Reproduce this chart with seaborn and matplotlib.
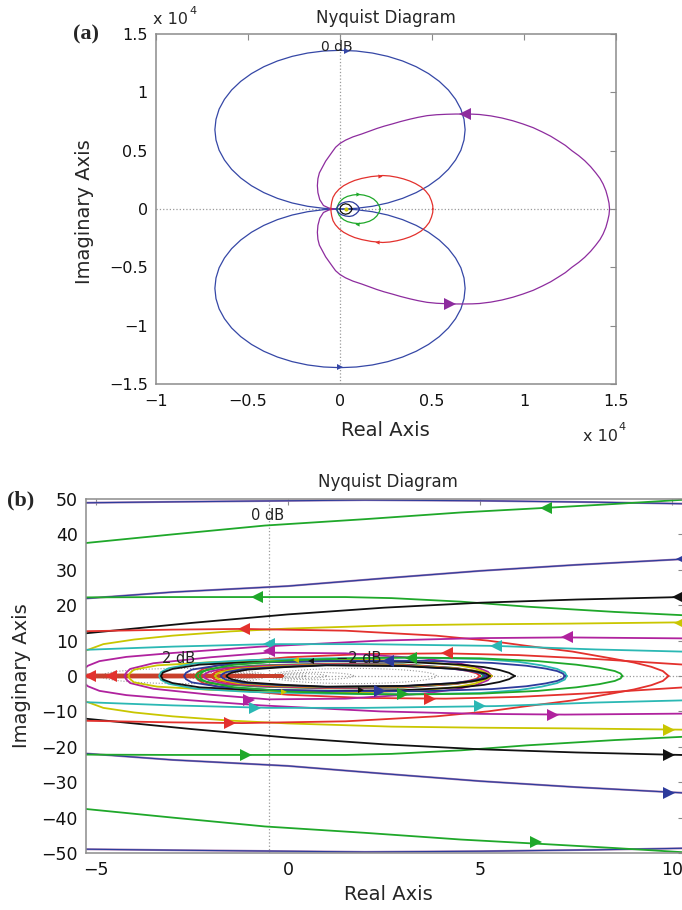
import numpy as np
import matplotlib
matplotlib.use("Agg")
import matplotlib.pyplot as plt
import seaborn as sns

# ---------------- Panel (a) data (units of 1e4), upper halves; lower halves mirror ----------------
a_blue_x = [0, -0.0888, -0.176, -0.26, -0.34, -0.414, -0.481, -0.5395, -0.589, -0.628, -0.657, -0.674, -0.68,
            -0.674, -0.657, -0.628, -0.589, -0.5395, -0.481, -0.414, -0.34, -0.26, -0.176, -0.0888, 0,
            0.0888, 0.176, 0.26, 0.34, 0.414, 0.481, 0.5395, 0.589, 0.628, 0.657, 0.674, 0.68,
            0.674, 0.657, 0.628, 0.589, 0.5395, 0.481, 0.414, 0.34, 0.26, 0.176, 0.0888, 0]
a_blue_y = [0, 0.0058, 0.0232, 0.0517, 0.0911, 0.1405, 0.1992, 0.266, 0.34, 0.4198, 0.504, 0.5913, 0.68,
            0.7687, 0.856, 0.9402, 1.02, 1.094, 1.1608, 1.2195, 1.2689, 1.3083, 1.3368, 1.3542, 1.36,
            1.3542, 1.3368, 1.3083, 1.2689, 1.2195, 1.1608, 1.094, 1.02, 0.9402, 0.856, 0.7687, 0.68,
            0.5913, 0.504, 0.4198, 0.34, 0.266, 0.1992, 0.1405, 0.0911, 0.0517, 0.0232, 0.0058, 0]
a_purple_x = [-0.03, -0.06, -0.09, -0.11, -0.12, -0.123, -0.12, -0.112, -0.095, -0.078, -0.06, -0.042, -0.024,
              0.0, 0.03, 0.07, 0.118, 0.16, 0.2, 0.24, 0.284, 0.33, 0.38, 0.425, 0.473, 0.525, 0.58, 0.63,
              0.675, 0.72, 0.758, 0.82, 0.88, 0.94, 0.994, 1.05, 1.1, 1.145, 1.184, 1.225, 1.26, 1.297,
              1.33, 1.362, 1.39, 1.413, 1.43, 1.445, 1.455, 1.462, 1.465]
a_purple_y = [0, 0.008, 0.03, 0.08, 0.14, 0.2, 0.26, 0.31, 0.36, 0.41, 0.45, 0.49, 0.529,
              0.562, 0.59, 0.618, 0.643, 0.667, 0.69, 0.71, 0.729, 0.75, 0.77, 0.786, 0.8, 0.808, 0.812, 0.814,
              0.814, 0.813, 0.81, 0.798, 0.78, 0.756, 0.729, 0.697, 0.66, 0.624, 0.586, 0.545, 0.5, 0.458,
              0.414, 0.363, 0.31, 0.262, 0.214, 0.157, 0.1, 0.05, 0]
a_red_x = [-0.05, -0.048, -0.045, -0.038, -0.025, -0.005, 0.02, 0.05, 0.08, 0.118, 0.17, 0.232, 0.27, 0.31,
           0.345, 0.379, 0.41, 0.44, 0.465, 0.485, 0.497, 0.504, 0.505]
a_red_y = [0, 0.03, 0.06, 0.1, 0.135, 0.17, 0.2, 0.225, 0.245, 0.262, 0.278, 0.287, 0.283, 0.272,
           0.258, 0.24, 0.218, 0.19, 0.155, 0.115, 0.07, 0.03, 0]
a_green_x = [-0.015, -0.013, -0.006, 0.005, 0.02, 0.04, 0.07, 0.1, 0.13, 0.16, 0.183, 0.2, 0.21, 0.216, 0.218]
a_green_y = [0, 0.025, 0.05, 0.072, 0.092, 0.108, 0.12, 0.125, 0.119, 0.105, 0.085, 0.06, 0.035, 0.015, 0]
a_navy_x = [-0.02, -0.015, -0.005, 0.01, 0.03, 0.05, 0.07, 0.088, 0.1, 0.105]
a_navy_y = [0, 0.018, 0.035, 0.05, 0.06, 0.064, 0.058, 0.04, 0.02, 0]
a_black_x = [0.0, 0.003, 0.015, 0.03, 0.048, 0.06, 0.065]
a_black_y = [0, 0.02, 0.038, 0.045, 0.038, 0.02, 0]
a_arrows = [(0.68, 0.814, '<', 'purple', 'big'), (0.6, -0.815, '>', 'purple', 'big'),
            (0.04, 1.357, '>', 'blue', 'small'), (0.0, -1.357, '>', 'blue', 'small'),
            (0.22, 0.287, '>', 'red', 'tiny'), (0.2, -0.285, '<', 'red', 'tiny'),
            (0.1, 0.125, '>', 'green', 'tiny'), (0.09, -0.125, '<', 'green', 'tiny'),
            (0.035, 0.0, 'o', 'yellow', 'tiny')]
a_xticks = [-1, -0.5, 0, 0.5, 1, 1.5]
a_xlabels = ['\u22121', '\u22120.5', '0', '0.5', '1', '1.5']
a_yticks = [-1.5, -1, -0.5, 0, 0.5, 1, 1.5]
a_ylabels = ['\u22121.5', '\u22121', '\u22120.5', '0', '0.5', '1', '1.5']

# ---------------- Panel (b) data, upper halves; lower halves mirror ----------------
b_curves = {
    "b_navy_top":  ([-5.5, -3, 0, 2, 5, 8, 10.6], [48.9, 49.2, 49.5, 49.7, 49.5, 49.1, 48.6]),
    "b_green_top": ([-5.5, -3, -0.6, 2, 4.5, 6.7, 8.5, 10.6], [37.3, 40.0, 42.5, 44.3, 46.2, 47.5, 48.6, 50.0]),
    "b_navy_mid":  ([-5.5, -3, 0, 2.5, 5, 7.5, 10.6], [21.7, 23.7, 25.4, 27.6, 29.7, 31.4, 33.2]),
    "b_green_flat": ([-5.5, -3, -0.8, 1.5, 2.7, 4.5, 6.2, 8.5, 10.6], [22.2, 22.3, 22.3, 22.3, 22.0, 21.0, 19.6, 18.1, 17.0]),
    "b_black_out": ([-5.5, -2.5, 0, 2.5, 5, 7.5, 10.6], [11.8, 15.0, 17.4, 19.3, 20.7, 21.6, 22.4]),
    "b_yellow_out": ([-5.7, -5.6, -5.3, -4.8, -4.0, -3.0, -1.5, 0, 2.7, 5, 7.3, 10.6],
                     [0, 4.0, 7.0, 9.0, 10.3, 11.4, 12.6, 13.4, 14.3, 14.6, 14.8, 15.2]),
    "b_red_out":   ([-5.5, -3, -1.2, 1.5, 3.85, 5.2, 6.15, 7.4, 8.45, 9.0, 9.45, 9.75, 9.9],
                    [12.6, 13.1, 13.3, 12.8, 11.4, 10.0, 8.6, 6.9, 4.9, 3.8, 2.6, 1.4, 0]),
    "b_magenta_out": ([-5.4, -5.35, -5.2, -4.9, -4.2, -3.0, -0.7, 2.4, 5.0, 7.2, 10.6],
                      [0, 1.5, 2.9, 4.2, 5.4, 6.5, 8.3, 10.0, 10.7, 10.9, 10.6]),
    "b_cyan_out":  ([-5.5, -3, -0.5, 2, 5.4, 8, 10.6], [7.3, 8.3, 9.0, 9.0, 8.5, 7.5, 6.8]),
    "b_red_mid":   ([-2.4, -2.35, -2.2, -1.5, 0, 2, 4.1, 6, 8, 10.6], [0, 1.0, 2.0, 3.8, 5.3, 6.2, 6.4, 5.9, 4.8, 3.0]),
    "b_red_axis":  ([-5.6, -3, -1, -0.15], [0.25, 0.25, 0.2, 0.0]),
    "b_magenta_in": ([-4.25, -4.2, -4.1, -3.5, -2, -0.5, 1.5, 3.5, 4.4, 4.9, 5.2, 5.3],
                     [0, 1.0, 2.0, 3.6, 5.3, 6.6, 6.4, 5.0, 3.7, 2.5, 1.2, 0]),
    "b_yellow_in": ([-4.15, -4.1, -4.0, -3.4, -2, 0, 2, 3.5, 4.4, 4.85, 5.1, 5.2],
                    [0, 0.9, 1.8, 3.0, 3.9, 4.5, 4.7, 4.0, 3.1, 2.2, 1.2, 0]),
    "b_cyan_in":   ([-3.35, -3.3, -3.1, -2.4, -1, 1, 3, 5, 6.0, 6.6, 7.0, 7.2, 7.25],
                    [0, 1.1, 2.2, 3.6, 4.5, 5.0, 5.2, 4.8, 4.0, 3.0, 2.0, 1.0, 0]),
    "b_black_in":  ([-3.3, -3.25, -3.0, -2.3, -1, 1, 3, 4.5, 5.1, 5.5, 5.75, 5.9],
                    [0, 1.0, 2.0, 3.2, 3.9, 4.2, 4.0, 3.2, 2.5, 1.7, 0.9, 0]),
    "b_navy_in":   ([-2.7, -2.65, -2.5, -1.8, -0.5, 1.5, 3.5, 5.3, 6.2, 6.7, 7.0, 7.15, 7.2],
                    [0, 0.9, 1.8, 3.0, 3.9, 4.3, 4.3, 3.7, 2.9, 2.1, 1.4, 0.7, 0]),
    "b_green_in":  ([-2.3, -2.25, -2.1, -1.4, 0, 2, 3.2, 5, 6.5, 7.5, 8.1, 8.5, 8.65, 8.7],
                    [0, 0.9, 1.8, 3.2, 4.4, 5.1, 5.2, 5.0, 4.2, 3.2, 2.3, 1.4, 0.7, 0]),
    "b_green_s":   ([-2.4, -2.35, -2.25, -1.8, -0.8, 1, 3, 4.3, 4.75, 5.0, 5.1],
                    [0, 0.7, 1.3, 2.3, 3.0, 3.5, 3.3, 2.3, 1.6, 0.8, 0]),
    "b_magenta_s": ([-2.2, -2.15, -2.05, -1.6, -0.6, 1, 3, 4.4, 4.85, 5.1, 5.2],
                    [0, 0.6, 1.2, 2.2, 2.9, 3.4, 3.2, 2.2, 1.5, 0.8, 0]),
    "b_red_s":     ([-2.0, -1.95, -1.85, -1.4, -0.4, 1, 3, 4.2, 4.65, 4.9, 5.0],
                    [0, 0.6, 1.2, 2.1, 2.8, 3.3, 3.1, 2.2, 1.5, 0.8, 0]),
    "b_yellow_s":  ([-1.9, -1.85, -1.75, -1.3, -0.3, 1, 3, 4.4, 4.9, 5.2, 5.3],
                    [0, 0.55, 1.1, 2.0, 2.7, 3.2, 3.0, 2.1, 1.4, 0.7, 0]),
    "b_navy_s":    ([-1.75, -1.7, -1.6, -1.2, -0.2, 1, 3, 4.3, 4.75, 5.05, 5.15],
                    [0, 0.55, 1.1, 1.9, 2.6, 3.1, 2.9, 2.0, 1.4, 0.7, 0]),
    "b_black_s":   ([-1.6, -1.55, -1.45, -1.05, -0.1, 1, 3, 4.4, 4.85, 5.15, 5.25],
                    [0, 0.5, 1.0, 1.8, 2.5, 3.0, 2.8, 2.0, 1.4, 0.7, 0]),
}
b_arrows = [(6.7, 47.5, '<', 'green'), (6.45, -47.0, '>', 'green'),
            (10.25, 33.1, '<', 'navy'), (9.9, -33.0, '>', 'navy'),
            (-0.8, 22.3, '<', 'green'), (-1.1, -22.2, '>', 'green'),
            (10.15, 22.3, '<', 'black'), (9.9, -22.2, '>', 'black'),
            (10.2, 15.1, '<', 'yellow'), (9.9, -15.2, '>', 'yellow'),
            (-1.15, 13.3, '<', 'red'), (-1.5, -13.3, '>', 'red'),
            (7.25, 10.9, '<', 'magenta'), (6.9, -10.9, '>', 'magenta'),
            (5.4, 8.5, '<', 'cyan'), (5.0, -8.4, '>', 'cyan'),
            (-0.5, 9.1, '<', 'cyan'), (-0.85, -8.9, '>', 'cyan'),
            (-0.5, 7.0, '<', 'magenta'), (-1.0, -6.7, '>', 'magenta'),
            (4.15, 6.4, '<', 'red'), (3.7, -6.4, '>', 'red'),
            (3.2, 5.2, '<', 'green'), (3.0, -5.2, '>', 'green'),
            (2.6, 4.3, '<', 'navy'), (2.4, -4.3, '>', 'navy'),
            (-5.15, 0.0, '<', 'red'), (-4.6, 0.0, '<', 'red')]
b_small_arrows = [(0.6, 4.2, '<', 'black'), (1.9, -3.9, '>', 'black'),
                  (0.2, 4.6, '<', 'yellow'), (-0.1, -4.5, '>', 'yellow')]
b_xticks = [-5, 0, 5, 10]
b_xlabels = ['\u22125', '0', '5', '10']
b_yticks = [-50, -40, -30, -20, -10, 0, 10, 20, 30, 40, 50]
b_ylabels = ['\u221250', '\u221240', '\u221230', '\u221220', '\u221210', '0', '10', '20', '30', '40', '50']
grid_db = [-10, -6, -4, -2, 2, 4, 6, 10]

# ---------------- styling ----------------
sns.set_style("white")
plt.rcParams['font.family'] = ['DejaVu Sans']
plt.rcParams['axes.unicode_minus'] = True

COL = {'blue': '#3547a6', 'purple': '#8d2c9e', 'red': '#e3312d', 'green': '#1fa82a',
       'navy': '#2d3b9c', 'black': '#111111', 'yellow': '#c9c600', 'magenta': '#b0229e',
       'cyan': '#2bb8b4'}
b_colors = {"b_navy_top": 'navy', "b_green_top": 'green', "b_navy_mid": 'navy', "b_green_flat": 'green',
            "b_black_out": 'black', "b_yellow_out": 'yellow', "b_red_out": 'red', "b_magenta_out": 'magenta',
            "b_cyan_out": 'cyan', "b_red_mid": 'red', "b_red_axis": 'red', "b_magenta_in": 'magenta',
            "b_yellow_in": 'yellow', "b_cyan_in": 'cyan', "b_black_in": 'black', "b_navy_in": 'navy',
            "b_green_in": 'green', "b_green_s": 'green', "b_magenta_s": 'magenta', "b_red_s": 'red',
            "b_yellow_s": 'yellow', "b_navy_s": 'navy', "b_black_s": 'black'}


def mirror_path(xs, ys):
    xs = list(xs)
    ys = list(ys)
    lx = xs[::-1]
    ly = [-v for v in ys[::-1]]
    if ys[0] == 0:
        lx, ly = lx[:-1], ly[:-1]
    return np.array(lx + xs), np.array(ly + ys)


def draw(ax, xs, ys, color, lw):
    sns.lineplot(x=xs, y=ys, sort=False, estimator=None, ax=ax, color=color, lw=lw, legend=False)


W, H = 682, 910
fig = plt.figure(figsize=(W / 100, H / 100), dpi=100)


def fx(px):
    return px / W


def fy(py):
    return 1 - py / H


ax_a = fig.add_axes([fx(156), fy(384), (616 - 156) / W, (384 - 34) / H])
ax_b = fig.add_axes([fx(86), fy(853), (684 - 86) / W, (853 - 499) / H])

# ---- panel (a) ----
ax_a.axhline(0, color='#9a9a9a', ls=':', lw=0.9, zorder=0)
ax_a.axvline(-0.5e-4, color='#9a9a9a', ls=':', lw=0.9, zorder=0)
lw_a = 0.9
draw(ax_a, a_blue_x, a_blue_y, COL['blue'], lw_a)
draw(ax_a, a_blue_x, [-v for v in a_blue_y], COL['blue'], lw_a)
for xs, ys, c in [(a_purple_x, a_purple_y, 'purple'), (a_red_x, a_red_y, 'red'),
                  (a_green_x, a_green_y, 'green'), (a_navy_x, a_navy_y, 'navy'),
                  (a_black_x, a_black_y, 'black')]:
    mx, my = mirror_path(xs, ys)
    draw(ax_a, mx, my, COL[c], lw_a)
sizes = {'big': 8, 'small': 4.5, 'tiny': 3}
for x, y, m, c, s in a_arrows:
    ax_a.plot([x], [y], marker=m, color=COL[c], ms=sizes[s], ls='none', mew=0, zorder=5)
ax_a.set_xlim(-1, 1.5)
ax_a.set_ylim(-1.5, 1.5)
ax_a.set_xticks(a_xticks)
ax_a.set_xticklabels(a_xlabels)
ax_a.set_yticks(a_yticks)
ax_a.set_yticklabels(a_ylabels)
ax_a.set_xlabel('')
ax_a.set_ylabel('')
ax_a.text(-0.015, 1.39, '0 dB', ha='center', va='center', fontsize=10, color='#222222')

# ---- panel (b) ----
ax_b.axhline(0, color='#9a9a9a', ls=':', lw=0.9, zorder=0)
ax_b.axvline(-0.5, color='#9a9a9a', ls=':', lw=0.9, zorder=0)
t = np.linspace(0, 2 * np.pi, 400)
for db in grid_db:
    M = 10 ** (db / 20)
    c0 = -M ** 2 / (M ** 2 - 1)
    r0 = abs(M / (M ** 2 - 1))
    ax_b.plot(c0 + r0 * np.cos(t), r0 * np.sin(t), ls=':', color='#9a9a9a', lw=0.8, zorder=0)

lw_b = 1.3
for name, (xs, ys) in b_curves.items():
    mx, my = mirror_path(xs, ys)
    if name in ("b_navy_top", "b_navy_mid"):
        draw(ax_b, mx, my, '#a27bb0', 1.5)
        draw(ax_b, mx, my, COL['navy'], 0.8)
    elif name == "b_red_axis":
        draw(ax_b, mx, my, '#c8402c', 2.2)
    else:
        draw(ax_b, mx, my, COL[b_colors[name]], lw_b)
for x, y, m, c in b_arrows:
    ax_b.plot([x], [y], marker=m, color=COL[c], ms=9, ls='none', mew=0, zorder=5)
for x, y, m, c in b_small_arrows:
    ax_b.plot([x], [y], marker=m, color=COL[c], ms=4, ls='none', mew=0, zorder=5)
ax_b.set_xlim(-5.25, 10.3)
ax_b.set_ylim(-50, 50)
ax_b.set_xticks(b_xticks)
ax_b.set_xticklabels(b_xlabels)
ax_b.set_yticks(b_yticks)
ax_b.set_yticklabels(b_ylabels)
ax_b.set_xlabel('')
ax_b.set_ylabel('')
ax_b.text(-0.53, 45.2, '0 dB', ha='center', va='center', fontsize=10.5, color='#222222')
ax_b.text(-2.85, 4.9, '2 dB', ha='center', va='center', fontsize=10.5, color='#222222')
ax_b.text(1.85, 4.9, '\u22122 dB', ha='center', va='center', fontsize=10.5, color='#222222')

for ax, ls in ((ax_a, 11.5), (ax_b, 12.5)):
    ax.tick_params(direction='in', length=4, width=0.8, color='#8a8a8a', top=True, right=True,
                   labelsize=ls, labelcolor='#111111')
    for s in ax.spines.values():
        s.set_color('#8c8c8c')
        s.set_linewidth(1.1)
ax_a.tick_params(axis='y', pad=6)
ax_a.tick_params(axis='x', pad=7)
ax_b.tick_params(axis='y', pad=6)
ax_b.tick_params(axis='x', pad=6)

# ---- figure texts ----
fig.text(fx(386), fy(18), 'Nyquist Diagram', ha='center', va='center', fontsize=12)
fig.text(fx(385), fy(430), 'Real Axis', ha='center', va='center', fontsize=14)
fig.text(fx(84), fy(212), 'Imaginary Axis', ha='center', va='center', rotation=90, fontsize=14)
fig.text(fx(153), fy(19), 'x 10', ha='left', va='center', fontsize=11.5)
fig.text(fx(189), fy(11), '4', ha='left', va='center', fontsize=8)
fig.text(fx(583), fy(436), 'x 10', ha='left', va='center', fontsize=11.5)
fig.text(fx(618), fy(427), '4', ha='left', va='center', fontsize=8)
fig.text(fx(86), fy(34), '(a)', ha='center', va='center', fontsize=16, fontweight='bold',
         family=['Liberation Serif', 'DejaVu Serif'])

fig.text(fx(388), fy(482), 'Nyquist Diagram', ha='center', va='center', fontsize=12)
fig.text(fx(388), fy(895), 'Real Axis', ha='center', va='center', fontsize=14)
fig.text(fx(22), fy(676), 'Imaginary Axis', ha='center', va='center', rotation=90, fontsize=14)
fig.text(fx(21), fy(500), '(b)', ha='center', va='center', fontsize=16, fontweight='bold',
         family=['Liberation Serif', 'DejaVu Serif'])

fig.savefig('out.png', dpi=100)
